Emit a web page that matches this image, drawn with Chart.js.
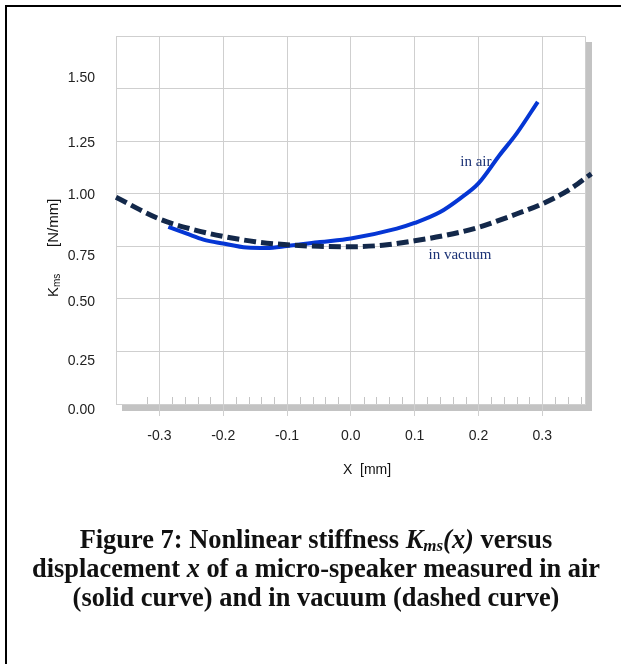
<!DOCTYPE html>
<html>
<head>
<meta charset="utf-8">
<script src="https://cdn.jsdelivr.net/npm/chart.js@4.4.0/dist/chart.umd.min.js"></script>
<style>
  html, body { margin: 0; padding: 0; background: #fff; overflow: hidden; }
  #wrap { position: relative; width: 621px; height: 664px; overflow: hidden; }
  #frame { position: absolute; left: 5px; top: 5px; width: 720px; height: 720px; border: 2px solid #000; }
  #c { position: absolute; left: 0; top: 0; }
  #caption {
    position: absolute; left: 0; width: 632px; top: 524.5px;
    text-align: center; white-space: nowrap; color: #111;
    font-family: "Liberation Serif", "Times New Roman", serif;
    font-weight: bold; font-size: 26.4px; line-height: 29px;
  }
  #caption .sub { font-size: 17px; line-height: 0; position: relative; top: 3px; }
</style>
</head>
<body>
<div id="wrap">
  <div id="frame"></div>
  <canvas id="c" width="621" height="664"></canvas>
  <div id="caption">Figure 7: Nonlinear stiffness <i>K<span class="sub">ms</span>(x)</i> versus<br>displacement <i>x</i> of a micro-speaker measured in air<br>(solid curve) and in vacuum (dashed curve)</div>
</div>
<script>
// Stiffness Kms [N/mm] against displacement X [mm]
const airX = [-0.286, -0.257, -0.231, -0.200, -0.163, -0.132, -0.100, -0.048, 0.000, 0.072, 0.100, 0.140, 0.171, 0.200, 0.233, 0.260, 0.293];
const airK = [0.842, 0.810, 0.782, 0.763, 0.744, 0.742, 0.751, 0.770, 0.787, 0.834, 0.861, 0.913, 0.977, 1.049, 1.183, 1.287, 1.437];

const vacX = [-0.368, -0.300, -0.250, -0.200, -0.150, -0.100, -0.050, 0.000, 0.050, 0.100, 0.150, 0.200, 0.250, 0.300, 0.340, 0.377];
const vacK = [0.983, 0.880, 0.832, 0.797, 0.772, 0.757, 0.750, 0.748, 0.755, 0.776, 0.803, 0.840, 0.893, 0.952, 1.015, 1.095];

const xTicks = [-0.3, -0.2, -0.1, 0.0, 0.1, 0.2, 0.3];
const yTicks = [0, 0.25, 0.5, 0.75, 1.0, 1.25, 1.5];

const curveLabels = ['in air', 'in vacuum'];
const curveLabelX = [0.196, 0.171];
const curveLabelY = [1.149, 0.706];

const GRID = '#cfcfcf';
const SANS = '"Liberation Sans", Arial, sans-serif';
// vertical nudge (px) of each Kms tick label, in yTicks order
const yLabelNudge = [6, 10, 3, 10, 1, 2, -10];

const plotDecor = {
  id: 'plotDecor',
  beforeDraw(chart) {
    const { ctx, chartArea: a } = chart;
    ctx.save();
    ctx.fillStyle = '#c3c3c3';
    ctx.fillRect(a.right, a.top + 6, 7, a.bottom - a.top);
    ctx.fillRect(a.left + 6, a.bottom + 1, a.right - a.left + 1, 6);
    ctx.restore();
  },
  afterDraw(chart) {
    const { ctx, chartArea: a, scales } = chart;
    ctx.save();
    // top and right edges of the plot box
    ctx.strokeStyle = GRID;
    ctx.lineWidth = 1;
    ctx.beginPath();
    ctx.moveTo(a.left, a.top + 0.5);
    ctx.lineTo(a.right + 0.5, a.top + 0.5);
    ctx.lineTo(a.right + 0.5, a.bottom);
    ctx.stroke();

    // minor ticks along the bottom edge, every 0.02 mm
    ctx.strokeStyle = '#c4c4c4';
    ctx.beginPath();
    for (let k = -16; k <= 18; k++) {
      if (k % 5 === 0) continue;
      const px = Math.round(scales.x.getPixelForValue(k * 0.02)) + 0.5;
      ctx.moveTo(px, a.bottom);
      ctx.lineTo(px, a.bottom - 7);
    }
    ctx.stroke();

    // Kms tick labels
    ctx.fillStyle = '#222';
    ctx.font = '14px ' + SANS;
    ctx.textAlign = 'right';
    ctx.textBaseline = 'middle';
    yTicks.forEach((v, i) => {
      ctx.fillText(v.toFixed(2), 95, scales.y.getPixelForValue(v) + yLabelNudge[i]);
    });

    // axis titles
    ctx.fillStyle = '#111';
    ctx.font = '14px ' + SANS;
    ctx.textAlign = 'center';
    ctx.fillText('X  [mm]', 367, 470);

    ctx.translate(52, 0);
    ctx.rotate(-Math.PI / 2);
    ctx.textAlign = 'left';
    ctx.textBaseline = 'alphabetic';
    const big = '15px ' + SANS, small = '10px ' + SANS;
    ctx.font = big;
    const wK = ctx.measureText('K').width;
    ctx.fillText('K', -297, 6);
    ctx.font = small;
    ctx.fillText('ms', -297 + wK, 8);
    ctx.font = big;
    ctx.fillText('[N/mm]', -247, 6);
    ctx.restore();
  },
  afterDatasetsDraw(chart) {
    const { ctx, scales } = chart;
    ctx.save();
    ctx.fillStyle = '#1b3275';
    ctx.font = '15px "Liberation Serif", "Times New Roman", serif';
    ctx.textAlign = 'center';
    ctx.textBaseline = 'middle';
    curveLabels.forEach((t, i) => {
      ctx.fillText(t, scales.x.getPixelForValue(curveLabelX[i]), scales.y.getPixelForValue(curveLabelY[i]));
    });
    ctx.restore();
  }
};

new Chart(document.getElementById('c'), {
  type: 'line',
  data: {
    datasets: [
      {
        label: 'in air',
        data: airX.map((x, i) => ({ x, y: airK[i] })),
        borderColor: '#0536d4',
        borderWidth: 4,
        pointRadius: 0,
        cubicInterpolationMode: 'monotone',
        fill: false,
        order: 1
      },
      {
        label: 'in vacuum',
        data: vacX.map((x, i) => ({ x, y: vacK[i] })),
        borderColor: '#13284a',
        borderWidth: 5,
        borderDash: [12, 5],
        pointRadius: 0,
        cubicInterpolationMode: 'monotone',
        fill: false,
        clip: false,
        order: 0
      }
    ]
  },
  options: {
    responsive: false,
    animation: false,
    devicePixelRatio: 1,
    layout: { padding: { left: 0, top: 36, right: 36, bottom: 220 } },
    plugins: { legend: { display: false }, tooltip: { enabled: false } },
    scales: {
      x: {
        type: 'linear',
        min: -0.368,
        max: 0.367,
        afterBuildTicks: s => { s.ticks = xTicks.map(v => ({ value: v })); },
        afterFit: s => { s.height = 40; },
        grid: { color: GRID, lineWidth: 1, drawTicks: true, tickLength: 12, tickColor: GRID },
        border: { display: true, color: GRID },
        ticks: {
          padding: 12, color: '#222', autoSkip: false, maxRotation: 0,
          font: { family: SANS, size: 14 },
          callback: v => Number(v).toFixed(1)
        }
      },
      y: {
        type: 'linear',
        min: 0,
        max: 1.75,
        afterBuildTicks: s => { s.ticks = yTicks.map(v => ({ value: v })); },
        afterFit: s => { s.width = 116; },
        grid: { color: GRID, lineWidth: 1, drawTicks: false },
        border: { display: true, color: GRID },
        ticks: { display: false }
      }
    }
  },
  plugins: [plotDecor]
});
</script>
</body>
</html>
